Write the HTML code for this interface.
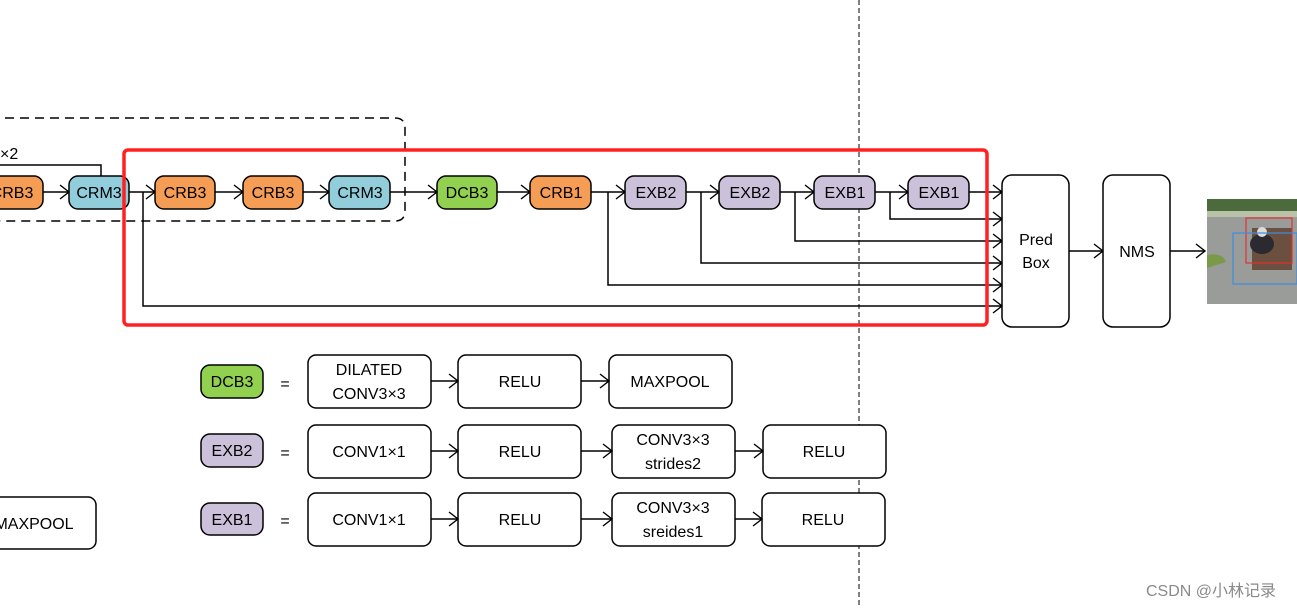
<!DOCTYPE html>
<html><head><meta charset="utf-8"><style>
html,body{margin:0;padding:0;background:#fff;width:1297px;height:608px;overflow:hidden}
svg text{font-family:"Liberation Sans","Noto Sans CJK SC",sans-serif;font-size:16px;fill:#000}
</style></head><body>
<svg width="1297" height="608" viewBox="0 0 1297 608" xmlns="http://www.w3.org/2000/svg">
<defs>
<marker id="a" markerWidth="12" markerHeight="16" refX="10" refY="8" orient="auto" markerUnits="userSpaceOnUse">
<path d="M1,1 L10,8 L1,15" fill="none" stroke="#000" stroke-width="1.4"/></marker>
</defs>
<g stroke="#000" stroke-width="1.5" fill="none">
<path d="M-10,118 H395 Q405,118 405,128 V211 Q405,221 395,221 H-10" stroke-dasharray="9,6"/>
<line x1="859" y1="0" x2="859" y2="608" stroke-width="1" stroke-dasharray="5,3"/>
<line x1="43" y1="192" x2="69" y2="192" marker-end="url(#a)"/>
<polyline points="0,165 101,165 101,176"/>
<line x1="129" y1="192" x2="155" y2="192" marker-end="url(#a)"/>
<line x1="215" y1="192" x2="243" y2="192" marker-end="url(#a)"/>
<line x1="303" y1="192" x2="329" y2="192" marker-end="url(#a)"/>
<line x1="390" y1="192" x2="437" y2="192" marker-end="url(#a)"/>
<line x1="497" y1="192" x2="530" y2="192" marker-end="url(#a)"/>
<line x1="591" y1="192" x2="625" y2="192" marker-end="url(#a)"/>
<line x1="686" y1="192" x2="719" y2="192" marker-end="url(#a)"/>
<line x1="780" y1="192" x2="814" y2="192" marker-end="url(#a)"/>
<line x1="875" y1="192" x2="908" y2="192" marker-end="url(#a)"/>
<line x1="969" y1="192" x2="1002" y2="192" marker-end="url(#a)"/>
<polyline points="890,192 890,219 1002,219" marker-end="url(#a)"/>
<polyline points="795,192 795,241 1002,241" marker-end="url(#a)"/>
<polyline points="701,192 701,263 1002,263" marker-end="url(#a)"/>
<polyline points="608,192 608,285 1002,285" marker-end="url(#a)"/>
<polyline points="143,192 143,306 1002,306" marker-end="url(#a)"/>
<line x1="1069" y1="251" x2="1103" y2="251" marker-end="url(#a)"/>
<line x1="1170" y1="251" x2="1205" y2="251" marker-end="url(#a)"/>
</g>
<g stroke="#000" stroke-width="1.5">
<rect x="-20" y="176" width="63" height="33" rx="9" fill="#f59c55"/>
<rect x="69" y="176" width="60" height="33" rx="9" fill="#92cddc"/>
<rect x="155" y="176" width="60" height="33" rx="9" fill="#f59c55"/>
<rect x="243" y="176" width="60" height="33" rx="9" fill="#f59c55"/>
<rect x="329" y="176" width="61" height="33" rx="9" fill="#92cddc"/>
<rect x="437" y="176" width="60" height="33" rx="9" fill="#92d050"/>
<rect x="530" y="176" width="61" height="33" rx="9" fill="#f59c55"/>
<rect x="625" y="176" width="61" height="33" rx="9" fill="#ccc1da"/>
<rect x="719" y="176" width="61" height="33" rx="9" fill="#ccc1da"/>
<rect x="814" y="176" width="61" height="33" rx="9" fill="#ccc1da"/>
<rect x="908" y="176" width="61" height="33" rx="9" fill="#ccc1da"/>
<rect x="1002" y="175" width="67" height="152" rx="10" fill="#fff"/>
<rect x="1103" y="175" width="67" height="152" rx="10" fill="#fff"/>
</g>
<rect x="124" y="150" width="863" height="175" rx="4" fill="none" stroke="#ff2020" stroke-width="3.5"/>
<g text-anchor="middle">
<text x="12" y="198">CRB3</text>
<text x="99" y="198">CRM3</text>
<text x="185" y="198">CRB3</text>
<text x="273" y="198">CRB3</text>
<text x="360" y="198">CRM3</text>
<text x="467" y="198">DCB3</text>
<text x="561" y="198">CRB1</text>
<text x="656" y="198">EXB2</text>
<text x="750" y="198">EXB2</text>
<text x="845" y="198">EXB1</text>
<text x="939" y="198">EXB1</text>
<text x="1036" y="245" font-size="17">Pred</text>
<text x="1036" y="268" font-size="17">Box</text>
<text x="1137" y="257">NMS</text>
</g>
<text x="0" y="159" font-size="15">×2</text>
<rect x="1207" y="199" width="90" height="105" fill="#9a9c9a"/>
<rect x="1207" y="199" width="90" height="12" fill="#4d6a3c"/>
<rect x="1207" y="211" width="90" height="6" fill="#b8c2a8"/>
<path d="M1207,255 Q1222,252 1226,262 L1207,268Z" fill="#7a9a4a"/>
<rect x="1252" y="228" width="40" height="42" fill="#6b5040"/>
<ellipse cx="1262" cy="244" rx="12" ry="10" fill="#2a2a30"/>
<ellipse cx="1262" cy="232" rx="5" ry="5" fill="#ddd"/>
<rect x="1246" y="218" width="46" height="45" fill="none" stroke="#e53030" stroke-width="1.2"/>
<rect x="1233" y="233" width="64" height="51" fill="none" stroke="#3a8ee0" stroke-width="1.2"/>
<g stroke="#000" stroke-width="1.5">
<rect x="201" y="365" width="62" height="33" rx="9" fill="#92d050"/>
<rect x="201" y="434" width="62" height="33" rx="9" fill="#ccc1da"/>
<rect x="201" y="503" width="62" height="32" rx="9" fill="#ccc1da"/>
<g fill="#fff">
<rect x="308" y="355" width="123" height="53" rx="8"/>
<rect x="458" y="355" width="123" height="53" rx="8"/>
<rect x="609" y="355" width="123" height="53" rx="8"/>
<rect x="308" y="425" width="123" height="53" rx="8"/>
<rect x="458" y="425" width="123" height="53" rx="8"/>
<rect x="612" y="425" width="123" height="53" rx="8"/>
<rect x="763" y="425" width="123" height="53" rx="8"/>
<rect x="308" y="493" width="123" height="53" rx="8"/>
<rect x="458" y="493" width="123" height="53" rx="8"/>
<rect x="612" y="493" width="123" height="53" rx="8"/>
<rect x="762" y="493" width="123" height="53" rx="8"/>
<rect x="-30" y="497" width="126" height="52" rx="8"/>
</g>
</g>
<g stroke="#000" stroke-width="1.5" fill="none">
<line x1="431" y1="381" x2="458" y2="381" marker-end="url(#a)"/>
<line x1="581" y1="381" x2="609" y2="381" marker-end="url(#a)"/>
<line x1="431" y1="451" x2="458" y2="451" marker-end="url(#a)"/>
<line x1="581" y1="451" x2="612" y2="451" marker-end="url(#a)"/>
<line x1="735" y1="451" x2="763" y2="451" marker-end="url(#a)"/>
<line x1="431" y1="519" x2="458" y2="519" marker-end="url(#a)"/>
<line x1="581" y1="519" x2="612" y2="519" marker-end="url(#a)"/>
<line x1="735" y1="519" x2="762" y2="519" marker-end="url(#a)"/>
</g>
<g text-anchor="middle">
<text x="232" y="387">DCB3</text>
<text x="232" y="456">EXB2</text>
<text x="232" y="525">EXB1</text>
<text x="285" y="389" font-size="20">=</text>
<text x="285" y="458" font-size="20">=</text>
<text x="285" y="526" font-size="20">=</text>
<text x="369" y="375">DILATED</text>
<text x="369" y="399">CONV3×3</text>
<text x="520" y="387">RELU</text>
<text x="670" y="387">MAXPOOL</text>
<text x="369" y="457">CONV1×1</text>
<text x="520" y="457">RELU</text>
<text x="673" y="445">CONV3×3</text>
<text x="673" y="469">strides2</text>
<text x="824" y="457">RELU</text>
<text x="369" y="525">CONV1×1</text>
<text x="520" y="525">RELU</text>
<text x="673" y="513">CONV3×3</text>
<text x="673" y="537">sreides1</text>
<text x="823" y="525">RELU</text>
<text x="34" y="529">MAXPOOL</text>
</g>
<text x="1146" y="596" font-size="15" style="fill:#8a8a8a">CSDN @小林记录</text>
</svg>
</body></html>
